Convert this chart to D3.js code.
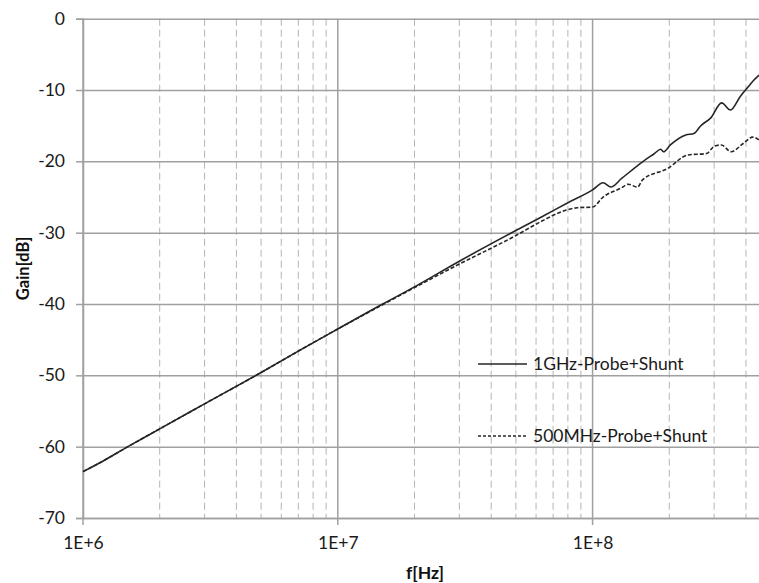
<!DOCTYPE html>
<html>
<head>
<meta charset="utf-8">
<script src="https://cdn.jsdelivr.net/npm/d3@7.9.0/dist/d3.min.js"></script>
<style>
  html, body { margin: 0; padding: 0; background: #fff; }
  svg { display: block; font-family: Lato, "Open Sans", sans-serif; }
</style>
</head>
<body>
<div id="chart"></div>
<script>
// chart size
const width = 759;
const height = 583;

// plot area
const area = { left: 83, right: 759, top: 18.7, bottom: 518 };

// axis settings
const xDomain = [1e6, 4.5e8];
const yDomain = [-70, 0];
const yTicks = [0, -10, -20, -30, -40, -50, -60, -70];
const xMajorTicks = [1e6, 1e7, 1e8];
const xTickLabels = ["1E+6", "1E+7", "1E+8"];

// series: 1GHz probe + shunt
const freq1G = [1e6, 1.2e6, 1.5e6, 2e6, 3e6, 5e6, 7e6, 1e7, 1.5e7, 2e7, 3e7, 5e7,
  6.3e7, 8e7, 1e8, 1.1e8, 1.18e8, 1.3e8, 1.58e8, 1.75e8, 1.85e8, 1.9e8, 2.02e8,
  2.32e8, 2.5e8, 2.66e8, 2.91e8, 3.21e8, 3.48e8, 3.8e8, 4.07e8, 4.3e8, 4.5e8];
const gain1G = [-63.5, -62.0, -60.0, -57.5, -54.0, -49.6, -46.6, -43.5, -40.0, -37.6, -34.0, -29.7,
  -27.8, -25.8, -24.0, -23.0, -23.6, -22.4, -20.0, -18.9, -18.3, -18.65, -17.7,
  -16.3, -16.1, -15.0, -13.9, -11.8, -12.8, -10.9, -9.6, -8.6, -7.9];

// series: 500MHz probe + shunt
const freq500M = [1e6, 1.2e6, 1.5e6, 2e6, 3e6, 5e6, 7e6, 1e7, 1.5e7, 2e7, 3e7, 5e7,
  6.3e7, 7.5e7, 8.7e7, 1e8, 1.1e8, 1.3e8, 1.38e8, 1.5e8, 1.57e8, 1.97e8, 2.37e8,
  2.8e8, 3.0e8, 3.2e8, 3.5e8, 3.9e8, 4.25e8, 4.5e8];
const gain500M = [-63.5, -62.0, -60.0, -57.5, -54.0, -49.6, -46.6, -43.5, -40.1, -37.7, -34.4, -30.4,
  -28.4, -27.1, -26.5, -26.4, -25.0, -23.7, -23.2, -23.6, -22.6, -21.0, -19.1,
  -18.9, -17.9, -17.7, -18.65, -17.5, -16.6, -17.0];

const seriesNames = ["1GHz-Probe+Shunt", "500MHz-Probe+Shunt"];

const labelFont = "Lato, sans-serif";
const labelSize = 17.5;

const svg = d3.select("#chart")
  .append("svg")
  .attr("width", width)
  .attr("height", height);

const x = d3.scaleLog().domain(xDomain).range([area.left, area.right]);
const y = d3.scaleLinear().domain(yDomain).range([area.bottom, area.top]);

// minor vertical gridlines (2..9 in each decade)
const minor = x.ticks().filter(d => !xMajorTicks.includes(d) && d < xDomain[1]);
svg.append("g")
  .selectAll("line")
  .data(minor)
  .join("line")
  .attr("x1", d => x(d)).attr("x2", d => x(d))
  .attr("y1", area.top).attr("y2", area.bottom)
  .attr("stroke", "#b4b4b4")
  .attr("stroke-width", 1)
  .attr("stroke-dasharray", "7,4");

// horizontal gridlines
svg.append("g")
  .attr("transform", `translate(${area.left},0)`)
  .call(d3.axisLeft(y).tickValues(yTicks).tickFormat("").tickSize(-(area.right - area.left)))
  .call(g => g.select(".domain").remove())
  .call(g => g.selectAll("line").attr("stroke", "#a0a0a0").attr("stroke-width", 1.5));

// major vertical gridlines
svg.append("g")
  .selectAll("line")
  .data(xMajorTicks)
  .join("line")
  .attr("x1", d => x(d)).attr("x2", d => x(d))
  .attr("y1", area.top).attr("y2", area.bottom + 7)
  .attr("stroke", "#a0a0a0")
  .attr("stroke-width", 1.5);

// y axis
svg.append("g")
  .attr("transform", `translate(${area.left},0)`)
  .call(d3.axisLeft(y).tickValues(yTicks).tickFormat(d => String(d)).tickSize(7).tickPadding(11))
  .call(g => g.select(".domain").attr("stroke", "#a0a0a0").attr("stroke-width", 1.5))
  .call(g => g.selectAll(".tick line").attr("stroke", "#a0a0a0").attr("stroke-width", 1.5))
  .call(g => g.selectAll("text").attr("font-size", labelSize).attr("fill", "#1a1a1a")
    .attr("font-family", labelFont));

// x axis labels
svg.append("g")
  .attr("transform", `translate(0,${area.bottom})`)
  .call(d3.axisBottom(x).tickValues(xMajorTicks).tickFormat((d, i) => xTickLabels[i]).tickSize(0).tickPadding(19))
  .call(g => g.select(".domain").attr("stroke", "#a0a0a0").attr("stroke-width", 1.5))
  .call(g => g.selectAll("text").attr("font-size", labelSize).attr("fill", "#1a1a1a")
    .attr("font-family", labelFont));

// series lines
const line = d3.line()
  .x(d => x(d[0]))
  .y(d => y(d[1]))
  .curve(d3.curveMonotoneX);

svg.append("path")
  .datum(d3.zip(freq1G, gain1G))
  .attr("d", line)
  .attr("fill", "none")
  .attr("stroke", "#262626")
  .attr("stroke-width", 1.6);

svg.append("path")
  .datum(d3.zip(freq500M, gain500M))
  .attr("d", line)
  .attr("fill", "none")
  .attr("stroke", "#262626")
  .attr("stroke-width", 1.6)
  .attr("stroke-dasharray", "4,2");

// legend
const legend = svg.append("g").attr("font-size", labelSize).attr("fill", "#1a1a1a");
const legendRows = [{ y: 364, dash: null }, { y: 436, dash: "3,2" }];
legendRows.forEach((r, i) => {
  legend.append("line")
    .attr("x1", 478).attr("x2", 527)
    .attr("y1", r.y).attr("y2", r.y)
    .attr("stroke", "#262626")
    .attr("stroke-width", 1.3)
    .attr("stroke-dasharray", r.dash);
  legend.append("text")
    .attr("x", 533).attr("y", r.y)
    .attr("dy", "0.35em")
    .text(seriesNames[i]);
});

// axis titles
svg.append("text")
  .attr("transform", `translate(29,${(area.top + area.bottom) / 2}) rotate(-90)`)
  .attr("text-anchor", "middle")
  .attr("font-size", 16.5)
  .attr("font-weight", "bold")
  .attr("fill", "#111")
  .text("Gain[dB]");

svg.append("text")
  .attr("x", 425)
  .attr("y", 579)
  .attr("text-anchor", "middle")
  .attr("font-size", 17.5)
  .attr("font-weight", "bold")
  .attr("fill", "#111")
  .text("f[Hz]");
</script>
</body>
</html>
